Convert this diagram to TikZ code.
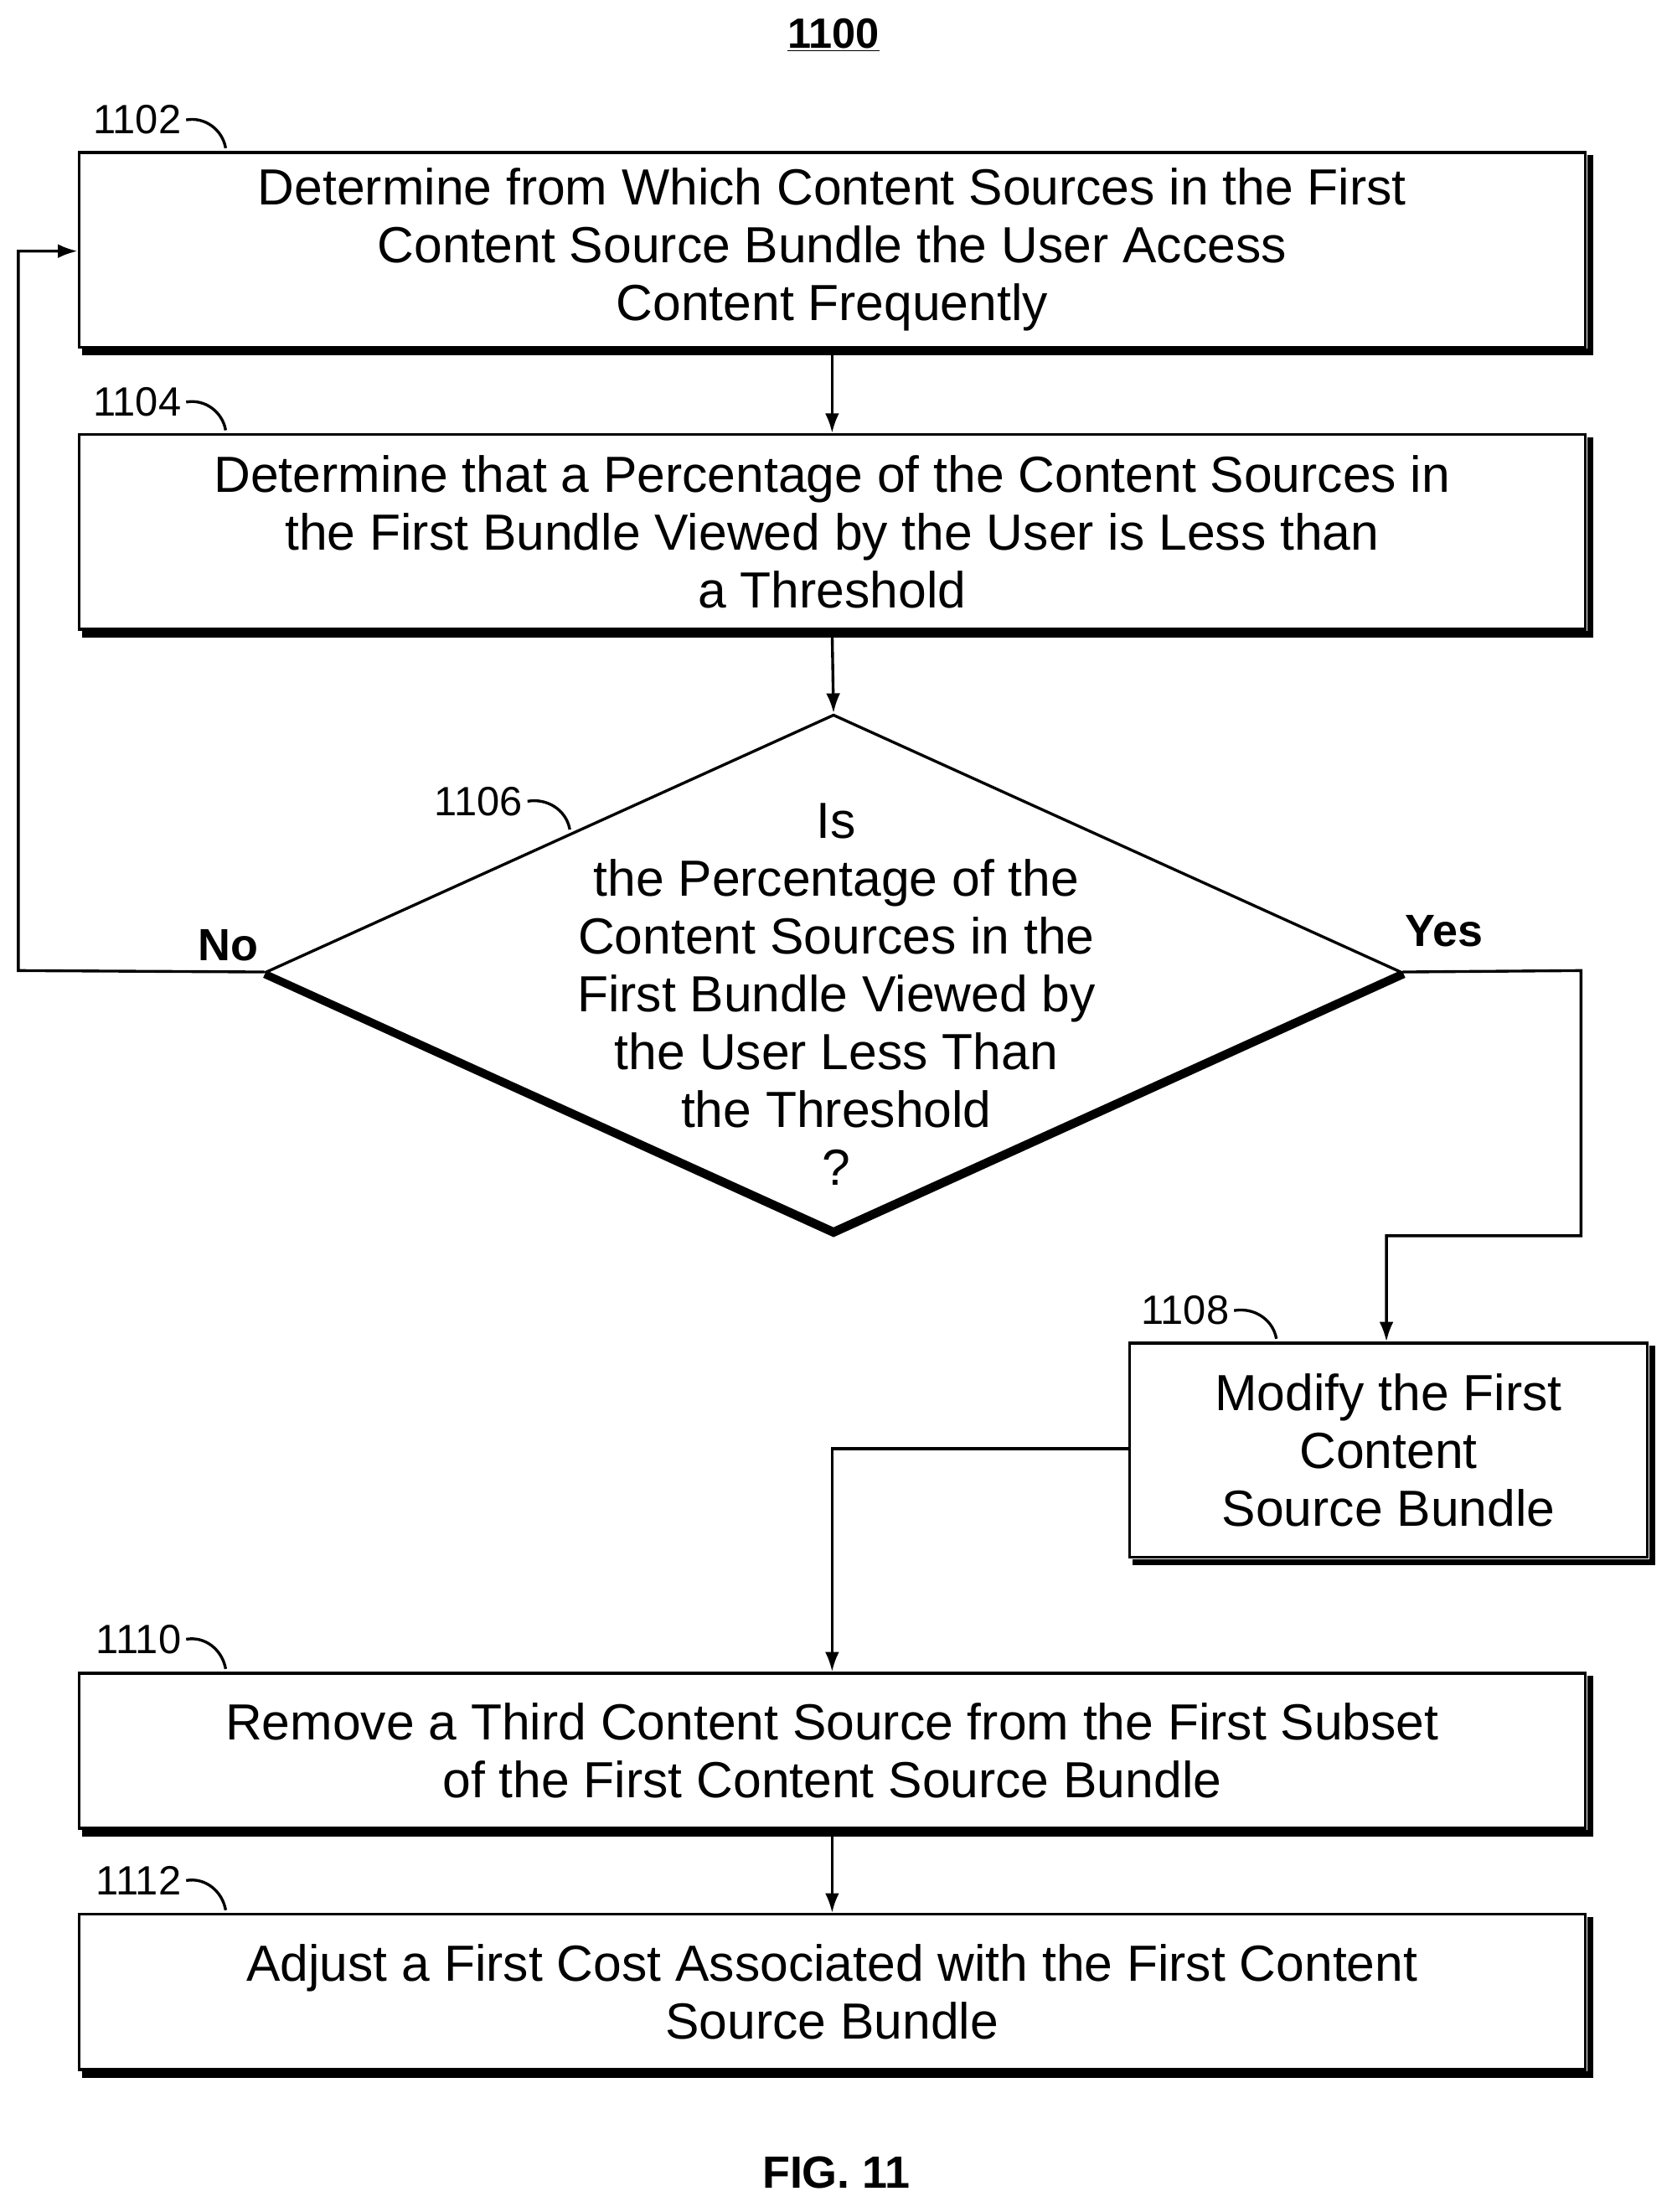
\documentclass[tikz,border=0pt]{standalone}
\usepackage{fontspec}
\setmainfont{Liberation Sans}
\usetikzlibrary{shapes.geometric,arrows.meta}
\begin{document}
\begin{tikzpicture}[x=1pt,y=-1pt,
  every node/.style={font=\fontsize{36}{41}\selectfont},
  box/.style={draw,line width=2pt,align=center,inner sep=0pt,anchor=north west},
  lbl/.style={font=\fontsize{29}{33}\selectfont,anchor=east},
  arr/.style={line width=2pt,-{Latex[length=14pt,width=10pt]}},
  ln/.style={line width=2pt},
  shd/.style={line width=4.5pt}]
\useasboundingbox (0,0) rectangle (1185,1568);
\node[font=\fontsize{30}{34}\selectfont\bfseries] (title) at (591,25) {\underline{1100}};
\node[box,minimum width=1068pt,minimum height=138pt] (b1) at (55,107) {Determine from Which Content Sources in the First\\Content Source Bundle the User Access\\Content Frequently};
\node[box,minimum width=1068pt,minimum height=138pt] (b2) at (55,307) {Determine that a Percentage of the Content Sources in\\the First Bundle Viewed by the User is Less than\\a Threshold};
\node[draw,diamond,line width=2pt,minimum width=805pt,minimum height=365pt,inner sep=0pt] (d) at (591,689) {};
\node[align=center] (dt) at (593,705) {Is\\the Percentage of the\\Content Sources in the\\First Bundle Viewed by\\the User Less Than\\the Threshold\\?};
\node[box,minimum width=367pt,minimum height=152pt] (b8) at (800,951) {Modify the First\\Content\\Source Bundle};
\node[box,minimum width=1068pt,minimum height=110pt] (b10) at (55,1185) {Remove a Third Content Source from the First Subset\\of the First Content Source Bundle};
\node[box,minimum width=1068pt,minimum height=110pt] (b12) at (55,1356) {Adjust a First Cost Associated with the First Content\\Source Bundle};
\node[font=\fontsize{32}{36}\selectfont\bfseries] (fig) at (593,1540) {FIG. 11};
% shadows
\foreach \n in {b1,b2,b8,b10,b12}{
  \draw[shd] ([xshift=3pt,yshift=-2.5pt]\n.south west) -- ([xshift=2.5pt,yshift=-2.5pt]\n.south east) -- ([xshift=2.5pt,yshift=-3pt]\n.north east);
}
\draw[line width=4.5pt] ([yshift=-2pt]d.west) -- ([yshift=-2pt]d.south) -- ([xshift=1pt,yshift=-2pt]d.east);
% labels
\node[lbl] (l1) at (132,85) {1102};
\draw[ln] (l1.east) to[out=10,in=100] (160,105);
\node[lbl] (l2) at (132,285) {1104};
\draw[ln] (l2.east) to[out=10,in=100] (160,305);
\node[lbl] (l6) at (374,568) {1106};
\draw[ln] (l6.east) to[out=10,in=100] (404,588);
\node[lbl] (l8) at (875,929) {1108};
\draw[ln] (l8.east) to[out=10,in=100] (905,949);
\node[lbl] (l10) at (132,1162) {1110};
\draw[ln] (l10.east) to[out=10,in=100] (160,1183);
\node[lbl] (l12) at (132,1333) {1112};
\draw[ln] (l12.east) to[out=10,in=100] (160,1354);
% connectors
\draw[arr] (b1.south) -- (b2.north);
\draw[arr] (b2.south) -- (d.north);
\coordinate (n1) at (13,688);
\coordinate (n2) at (13,178);
\draw[arr] (d.west) -- (n1) -- (n2) -- (b1.west |- n2);
\node[font=\fontsize{32}{36}\selectfont\bfseries] (no) at (162,670) {No};
\coordinate (y1) at (1121,688);
\coordinate (y2) at (1121,876);
\coordinate (y3) at (983,876);
\draw[arr] (d.east) -- (y1) -- (y2) -- (y3) -- (y3 |- b8.north);
\node[font=\fontsize{32}{36}\selectfont\bfseries] (yes) at (1024,660) {Yes};
\coordinate (m1) at (590,1027);
\draw[arr] (b8.west |- m1) -- (m1) -- (m1 |- b10.north);
\draw[arr] (b10.south) -- (b12.north);
\end{tikzpicture}
\end{document}
